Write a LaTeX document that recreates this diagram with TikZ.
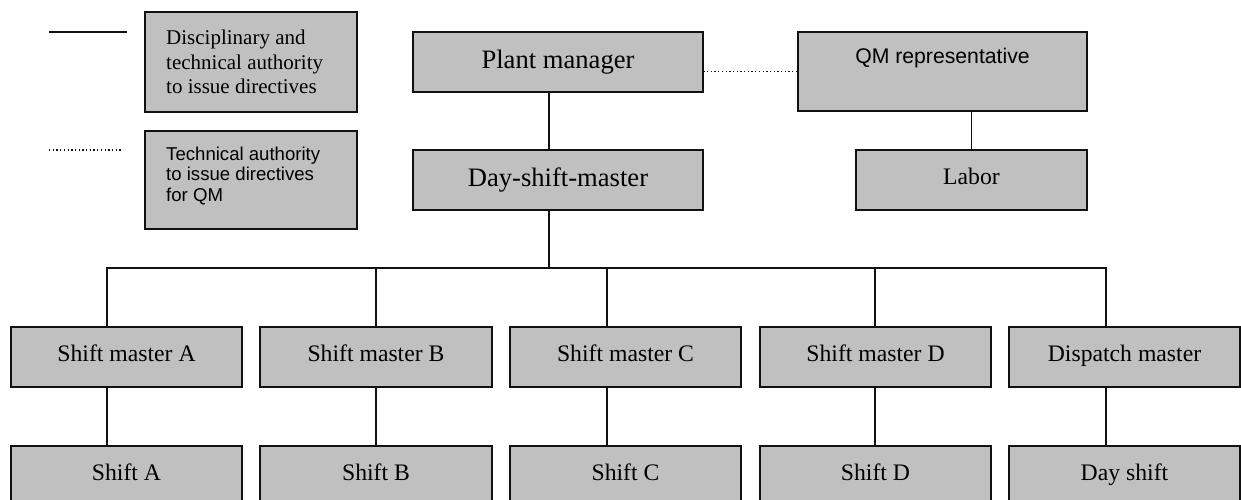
\documentclass[tikz,border=0pt]{standalone}
\usepackage{fontspec}
\setmainfont{Liberation Serif}
\newfontfamily\arialf{Liberation Sans}
\usetikzlibrary{calc}
\definecolor{boxgray}{HTML}{C0C0C0}
\definecolor{edge}{HTML}{111111}
\tikzset{
  box/.style={draw=edge, fill=boxgray, line width=1.8pt, inner sep=0pt,
    minimum height=60pt},
  bigtxt/.style={font=\fontsize{26.6}{30}\selectfont, text height=19pt, text depth=6pt},
  smalltxt/.style={font=\fontsize{23.7}{27}\selectfont, text height=16pt, text depth=7pt},
  conn/.style={draw=edge, line width=1.6pt},
  dotconn/.style={draw=edge, line width=1.4pt, dash pattern=on 1.3pt off 2.4pt},
}
\begin{document}
\begin{tikzpicture}[x=1pt,y=-1pt]
\useasboundingbox (0,0) rectangle (1241,499);
\clip (0,0) rectangle (1241,499);

% legend
\node[box, minimum width=212pt, minimum height=100pt] (lg1) at (251,62) {};
\node[anchor=west, align=left, inner sep=0pt, font=\fontsize{21}{24.5}\selectfont] (lg1t) at (166,62)
  {Disciplinary and\\technical authority\\to issue directives};
\node[box, minimum width=212pt, minimum height=98pt] (lg2) at (251,180) {};
\node[anchor=west, align=left, inner sep=0pt, font=\arialf\fontsize{18.6}{20.6}\selectfont] (lg2t) at (166,176)
  {Technical authority\\to issue directives\\for QM};
\coordinate (s1a) at (49,32);  \coordinate (s1b) at (127,32);
\coordinate (s2a) at (49,150); \coordinate (s2b) at (123,150);
\draw[conn] (s1a) -- (s1b);
\draw[dotconn] (s2a) -- (s2b);

% top
\node[box, bigtxt, minimum width=290pt] (pm) at (558,62) {Plant manager};
\node[box, minimum width=289pt, minimum height=79pt] (qm) at (942.5,71.5) {};
\node[anchor=base, inner sep=0pt, font=\arialf\fontsize{21.2}{24}\selectfont] (qmt) at (942.5,63) {QM representative};
\node[box, bigtxt, minimum width=290pt] (dsm) at (558,180) {Day-shift-master};
\node[box, smalltxt, minimum width=231pt] (lab) at (971.5,180) {Labor};

% shift masters
\node[box, smalltxt, minimum width=231pt] (smA) at (126.5,357) {Shift master A};
\node[box, smalltxt, minimum width=232pt] (smB) at (376,357) {Shift master B};
\node[box, smalltxt, minimum width=231pt] (smC) at (625.5,357) {Shift master C};
\node[box, smalltxt, minimum width=231pt] (smD) at (875.5,357) {Shift master D};
\node[box, smalltxt, minimum width=231pt] (dm) at (1124.5,357) {Dispatch master};

% shifts
\node[box, smalltxt, minimum width=231pt] (shA) at (126.5,476) {Shift A};
\node[box, smalltxt, minimum width=232pt] (shB) at (376,476) {Shift B};
\node[box, smalltxt, minimum width=231pt] (shC) at (625.5,476) {Shift C};
\node[box, smalltxt, minimum width=231pt] (shD) at (875.5,476) {Shift D};
\node[box, smalltxt, minimum width=231pt] (dsh) at (1124.5,476) {Day shift};

% connectors
\coordinate (jD) at (549,268);
\coordinate (tA) at (107,268);
\coordinate (tB) at (376,268);
\coordinate (tC) at (607,268);
\coordinate (tD) at (875,268);
\coordinate (tE) at (1106,268);

\draw[dotconn] (qm.west) -- (qm.west -| pm.east);
\draw[conn] (lab.north) -- (lab.north |- qm.south);
\draw[conn] (pm.south -| jD) -- (dsm.north -| jD);
\draw[conn] (dsm.south -| jD) -- (jD);
\draw[conn] (smA.north -| tA) -- (tA) -- (tE) -- (dm.north -| tE);
\draw[conn] (tB) -- (smB.north -| tB);
\draw[conn] (tC) -- (smC.north -| tC);
\draw[conn] (tD) -- (smD.north -| tD);
\draw[conn] (smA.south -| tA) -- (shA.north -| tA);
\draw[conn] (smB.south -| tB) -- (shB.north -| tB);
\draw[conn] (smC.south -| tC) -- (shC.north -| tC);
\draw[conn] (smD.south -| tD) -- (shD.north -| tD);
\draw[conn] (dm.south -| tE) -- (dsh.north -| tE);
\end{tikzpicture}
\end{document}
